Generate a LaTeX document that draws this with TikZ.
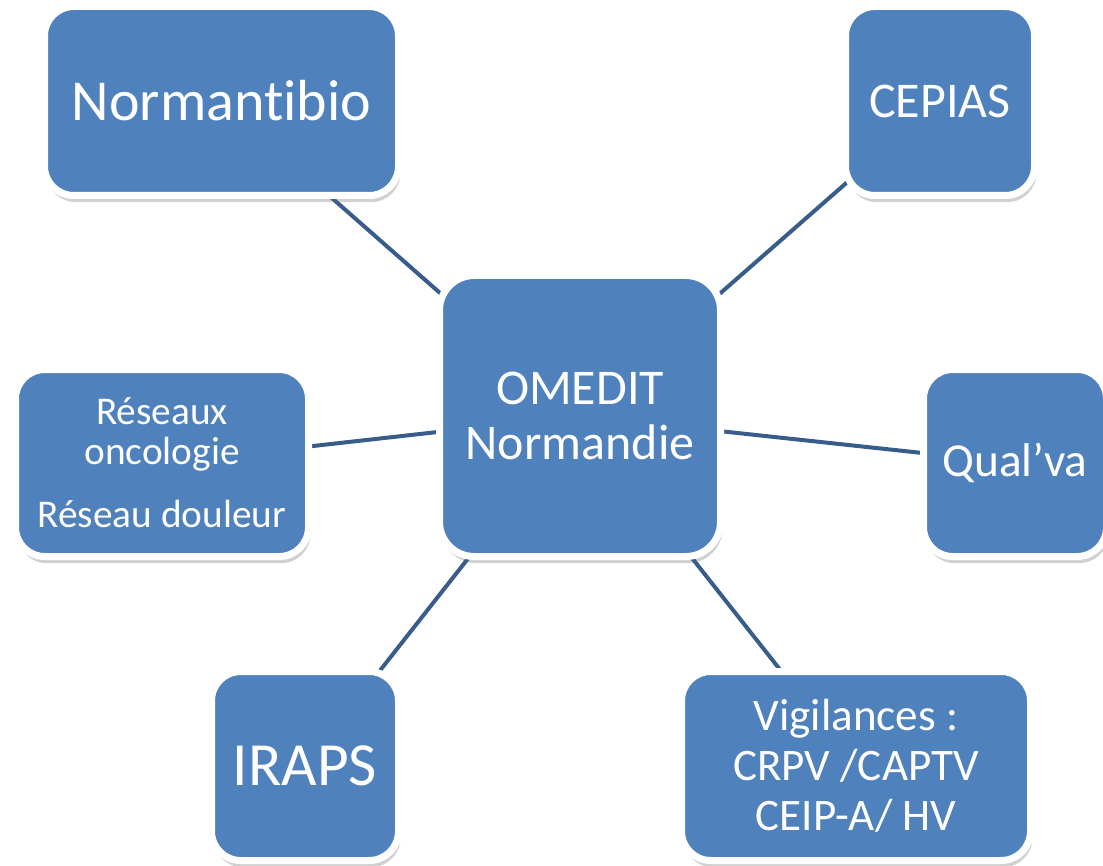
\documentclass[tikz,border=0pt]{standalone}
\usepackage{fontspec}
\setmainfont{Carlito}[Ligatures=NoCommon]
\usepackage{tikz}
\usetikzlibrary{shapes,arrows,shadows,backgrounds}
\definecolor{boxblue}{RGB}{79,129,189}
\definecolor{linkblue}{RGB}{56,93,138}

\begin{document}
\begin{tikzpicture}[x=0.75pt,y=-0.75pt,
		box/.style={draw=white, line width=5.25pt, fill=boxblue, text=white, inner sep=0pt, align=center,
			rounded corners=22pt, drop shadow={shadow xshift=1.5pt, shadow yshift=-5pt, fill=black!60, opacity=0.3}},
		link/.style={draw=linkblue, line width=3pt}]
		\useasboundingbox (0,0) rectangle (1103,866);
		% centre
		\node[box, rounded corners=26pt, minimum width=210.75pt, minimum height=210.75pt, font=\fontsize{37.5}{41}\selectfont] (omedit) at (580,416) {OMEDIT\\Normandie};
		% partenaires
		\node[box, minimum width=265.5pt, minimum height=141.75pt, font=\fontsize{43.5}{52}\selectfont] (normantibio) at (221.5,101) {Normantibio};
		\node[box, minimum width=141.75pt, minimum height=141.75pt, font=\fontsize{37.5}{45}\selectfont] (cepias) at (940,101) {CEPIAS};
		\node[box, minimum width=219.75pt, minimum height=140.25pt, font=\fontsize{29.5}{30}\selectfont] (reseaux) at (162,463) {Réseaux\\oncologie\\[17pt]Réseau douleur};
		\node[box, minimum width=137.25pt, minimum height=140.25pt, font=\fontsize{35.5}{42}\selectfont] (qualva) at (1015,463) {Qual’va};
		\node[box, minimum width=140.25pt, minimum height=141.75pt, font=\fontsize{46}{54}\selectfont] (iraps) at (305,766) {IRAPS};
		\node[box, minimum width=261.75pt, minimum height=141.75pt, font=\fontsize{33.8}{37.5}\selectfont] (vigilances) at (856,766) {Vigilances :\\CRPV /CAPTV\\CEIP-A/ HV};
		% liens
		\begin{pgfonlayer}{background}
			\foreach \n in {normantibio,cepias,reseaux,qualva,iraps,vigilances}
				\draw[link] (omedit.center) -- (\n.center);
		\end{pgfonlayer}
	\end{tikzpicture}
\end{document}
